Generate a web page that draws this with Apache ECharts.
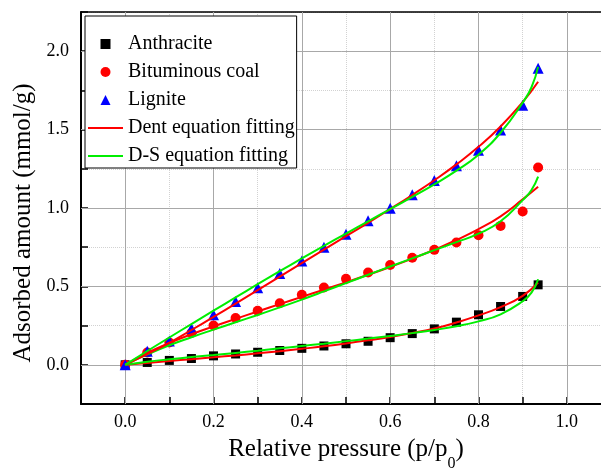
<!DOCTYPE html>
<html>
<head>
<meta charset="utf-8">
<script src="https://cdn.jsdelivr.net/npm/echarts@6/dist/echarts.min.js"></script>
<style>html,body{margin:0;padding:0;background:#fff;}#c{width:601px;height:469px;}</style>
</head>
<body>
<div id="c"></div>
<script>
// Measured points (relative pressure p/p0)
var pressure = [0, 0.05, 0.1, 0.15, 0.2, 0.25, 0.3, 0.35, 0.4, 0.45, 0.5, 0.55, 0.6, 0.65, 0.7, 0.75, 0.8, 0.85, 0.9, 0.935];
var anthracite = [0, 0.015, 0.028, 0.04, 0.057, 0.069, 0.08, 0.091, 0.105, 0.12, 0.134, 0.15, 0.173, 0.199, 0.229, 0.272, 0.319, 0.372, 0.436, 0.51];
var bituminous = [0, 0.078, 0.142, 0.203, 0.251, 0.298, 0.345, 0.393, 0.446, 0.493, 0.548, 0.589, 0.636, 0.683, 0.733, 0.78, 0.826, 0.886, 0.978, 1.258];
var lignite = [0, 0.087, 0.152, 0.231, 0.319, 0.404, 0.492, 0.583, 0.662, 0.75, 0.833, 0.918, 0.999, 1.084, 1.175, 1.269, 1.369, 1.497, 1.655, 1.892];

// Fitted curves
var dentX = [0, 0.05, 0.1, 0.15, 0.2, 0.25, 0.3, 0.35, 0.4, 0.45, 0.5, 0.55, 0.6, 0.65, 0.7, 0.75, 0.8, 0.85, 0.9, 0.935];
var dsX = [0, 0.05, 0.1, 0.15, 0.2, 0.25, 0.3, 0.35, 0.4, 0.45, 0.5, 0.55, 0.6, 0.65, 0.7, 0.75, 0.8, 0.85, 0.9, 0.92, 0.935];
var anthDent = [0, 0.012, 0.024, 0.036, 0.048, 0.06, 0.073, 0.087, 0.102, 0.118, 0.136, 0.156, 0.178, 0.203, 0.231, 0.27, 0.315, 0.368, 0.44, 0.525];
var anthDS = [0, 0.02, 0.035, 0.049, 0.062, 0.076, 0.09, 0.105, 0.12, 0.135, 0.151, 0.167, 0.184, 0.202, 0.222, 0.246, 0.277, 0.322, 0.405, 0.46, 0.546];
var bitDent = [0, 0.076, 0.139, 0.195, 0.245, 0.293, 0.34, 0.387, 0.433, 0.479, 0.526, 0.574, 0.624, 0.677, 0.734, 0.796, 0.865, 0.947, 1.055, 1.135];
var bitDS = [0, 0.066, 0.125, 0.176, 0.224, 0.271, 0.318, 0.366, 0.416, 0.468, 0.521, 0.574, 0.627, 0.679, 0.731, 0.782, 0.836, 0.915, 1.05, 1.115, 1.2];
var lignDent = [0, 0.068, 0.14, 0.222, 0.305, 0.39, 0.476, 0.562, 0.648, 0.734, 0.82, 0.905, 0.993, 1.083, 1.177, 1.278, 1.39, 1.52, 1.675, 1.805];
var lignDS = [0, 0.088, 0.174, 0.26, 0.345, 0.43, 0.514, 0.597, 0.678, 0.758, 0.837, 0.915, 0.993, 1.071, 1.151, 1.238, 1.34, 1.48, 1.672, 1.77, 1.9];

var xTickLabels = ['0.0', '0.2', '0.4', '0.6', '0.8', '1.0'];
var yTickLabels = ['0.0', '0.5', '1.0', '1.5', '2.0'];

var FONT = "'Liberation Serif', 'Times New Roman', serif";

function pairs(xs, ys) { return xs.map(function (x, i) { return [x, ys[i]]; }); }

var chart = echarts.init(document.getElementById('c'), null, {renderer: 'canvas'});

function scatter(name, data, symbol, size, color) {
  return {type: 'scatter', name: name, data: pairs(pressure, data), symbol: symbol, symbolSize: size,
    itemStyle: {color: color, opacity: 1}, z: 2, animation: false};
}
function fit(name, xs, ys, color) {
  return {type: 'line', name: name, data: pairs(xs, ys), symbol: 'none', showSymbol: false, smooth: true,
    lineStyle: {color: color, width: 2}, itemStyle: {color: color}, z: 3, animation: false};
}

var LINE_ICON = 'path://M0,0L36,0L36,2L0,2Z';

// major grid lines at the labelled tick values
var majorLines = xTickLabels.map(function (t) { return {xAxis: Number(t)}; })
  .concat(yTickLabels.map(function (t) { return {yAxis: Number(t)}; }));

var option = {
  backgroundColor: '#fff',
  animation: false,
  grid: {left: 81, top: 12, width: 530, height: 392, containLabel: false, outerBoundsMode: 'none'},
  legend: {
    orient: 'vertical', left: 85, top: 16, z: 10,
    backgroundColor: '#fff', borderColor: '#000', borderWidth: 1,
    padding: [18, 2, 2, 3], itemGap: 8, itemWidth: 35, itemHeight: 10,
    textStyle: {fontFamily: FONT, fontSize: 20, color: '#000', lineHeight: 20},
    data: [
      {name: 'Anthracite', icon: 'path://M0,0L10,0L10,10L0,10Z'},
      {name: 'Bituminous coal', icon: 'circle'},
      {name: 'Lignite', icon: 'path://M5,0L10,10L0,10Z'},
      {name: 'Dent equation fitting', icon: LINE_ICON},
      {name: 'D-S equation fitting', icon: LINE_ICON}
    ]
  },
  xAxis: [{
    type: 'value', min: -0.1, max: 1.1, interval: 0.1, position: 'bottom',
    axisLine: {show: true, onZero: false, lineStyle: {color: '#000', width: 2}},
    axisTick: {show: true, inside: true, length: 7, lineStyle: {color: '#000', width: 1.5}},
    axisLabel: {margin: 9, fontSize: 18, fontFamily: FONT, color: '#000',
      formatter: function (v) { var k = Math.round(v * 10); return (k >= 0 && k % 2 === 0 && k / 2 < xTickLabels.length) ? xTickLabels[k / 2] : ''; }},
    splitLine: {show: true, lineStyle: {color: '#d2d2d2', type: 'dotted', width: 1}},
    name: 'Relative pressure (p/p{s|0})', nameLocation: 'middle', nameGap: 33,
    nameTextStyle: {fontFamily: FONT, fontSize: 25, color: '#000',
      rich: {s: {fontFamily: FONT, fontSize: 16, color: '#000', verticalAlign: 'bottom', padding: [0, 0, -10, 0]}}}
  }, {
    type: 'value', min: -0.1, max: 1.1, interval: 0.1, position: 'top',
    axisLine: {show: true, onZero: false, lineStyle: {color: '#000', width: 1.5}},
    axisTick: {show: false}, axisLabel: {show: false}, splitLine: {show: false}
  }],
  yAxis: [{
    type: 'value', min: -0.25, max: 2.25, interval: 0.25, position: 'left',
    axisLine: {show: true, onZero: false, lineStyle: {color: '#000', width: 2}},
    axisTick: {show: true, inside: true, length: 7, lineStyle: {color: '#000', width: 1.5}},
    axisLabel: {margin: 12, fontSize: 18, fontFamily: FONT, color: '#000',
      formatter: function (v) { var k = Math.round(v * 4); return (k >= 0 && k % 2 === 0 && k / 2 < yTickLabels.length) ? yTickLabels[k / 2] : ''; }},
    splitLine: {show: true, lineStyle: {color: '#d2d2d2', type: 'dotted', width: 1}},
    name: 'Adsorbed amount (mmol/g)', nameLocation: 'middle', nameRotate: 90, nameGap: 37,
    nameTextStyle: {fontFamily: FONT, fontSize: 25, color: '#000', padding: [0, 30, 0, 0]}
  }],
  series: [
    {type: 'line', name: 'grid-major', data: [[0, 0]], symbol: 'none', showSymbol: false,
      lineStyle: {opacity: 0}, z: 1, silent: true, animation: false,
      markLine: {silent: true, z: 1, symbol: ['none', 'none'], label: {show: false}, animation: false,
        lineStyle: {color: '#a8a8a8', type: 'solid', width: 1}, emphasis: {disabled: true},
        data: majorLines}},
    scatter('Anthracite', anthracite, 'rect', 9, '#000'),
    scatter('Bituminous coal', bituminous, 'circle', 10, '#ff0000'),
    scatter('Lignite', lignite, 'triangle', 11, '#0000ff'),
    fit('Dent equation fitting', dentX, anthDent, '#ff0000'),
    fit('D-S equation fitting', dsX, anthDS, '#00ee00'),
    fit('Dent equation fitting', dentX, bitDent, '#ff0000'),
    fit('D-S equation fitting', dsX, bitDS, '#00ee00'),
    fit('Dent equation fitting', dentX, lignDent, '#ff0000'),
    fit('D-S equation fitting', dsX, lignDS, '#00ee00')
  ]
};
chart.setOption(option);
</script>
</body>
</html>
